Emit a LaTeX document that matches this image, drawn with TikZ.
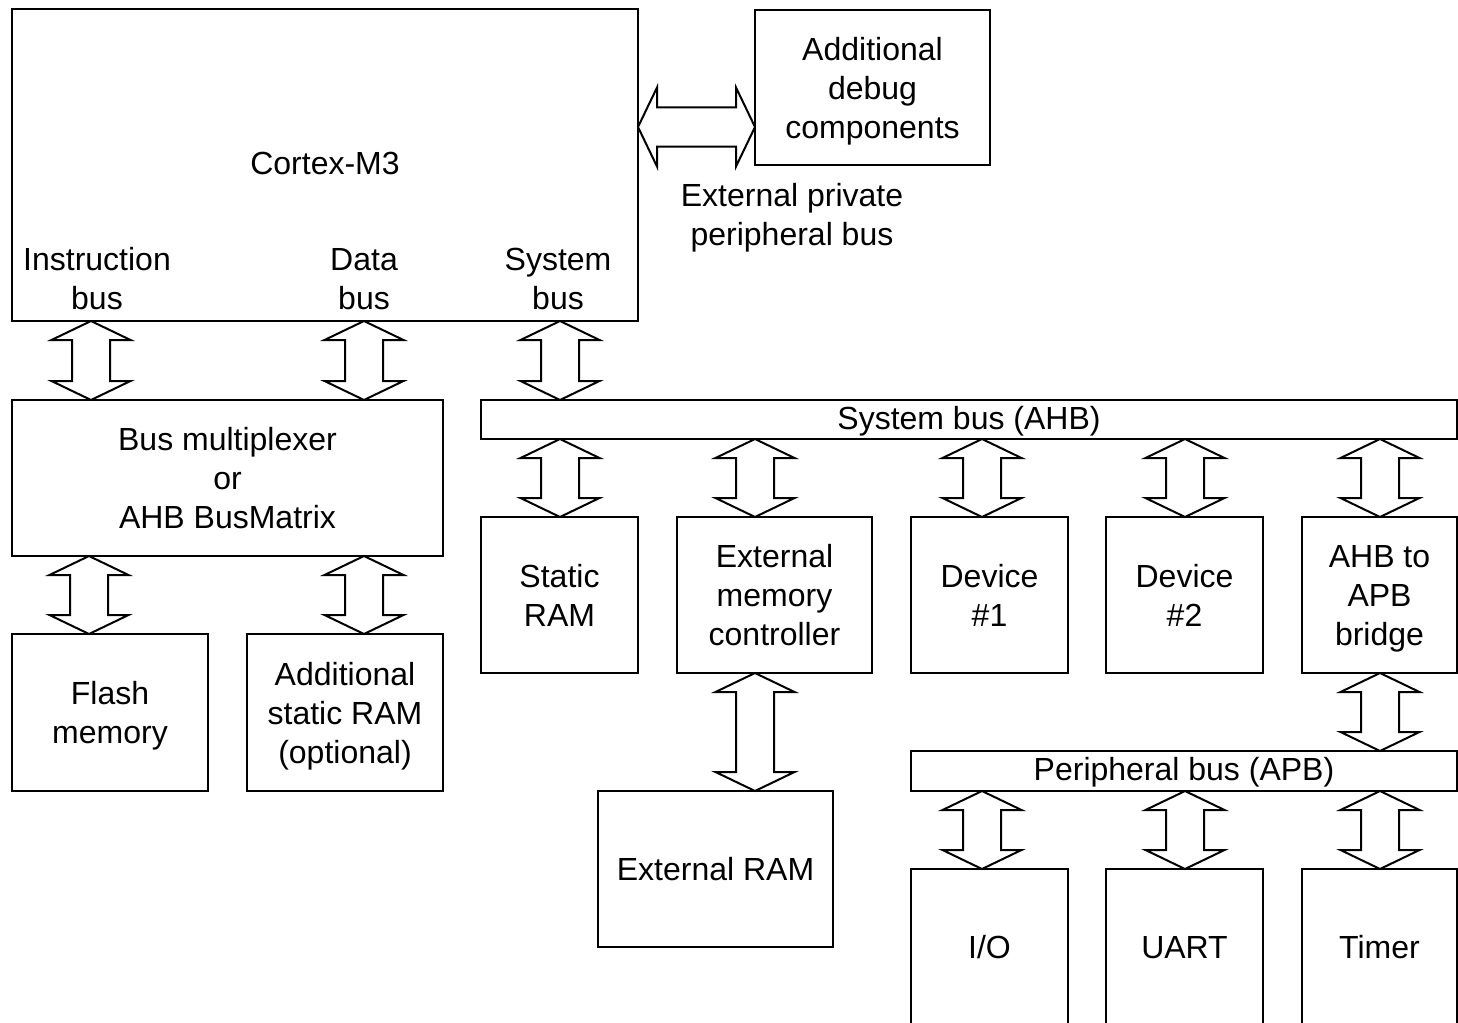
\documentclass[tikz,border=0pt]{standalone}
\usepackage{fontspec}
\setmainfont{Liberation Sans}
\usetikzlibrary{calc}
\newcommand\topstrut{\rule{0pt}{35.3pt}}
\tikzset{
  boxbase/.style={draw, line width=2.2pt, rectangle, anchor=north west, inner sep=0pt, outer sep=0pt, align=center, font=\fontsize{32}{39}\selectfont},
  box/.style={boxbase},
  bar/.style={boxbase, text height=29.3pt, text depth=9.7pt},
  lbl/.style={inner sep=0pt, align=center, font=\fontsize{32}{39}\selectfont},
  fat/.style={draw, line width=2pt, line join=miter},
}
% vertical double arrow at pixel x #1 from node #2 (south) to node #3 (north)
\newcommand\vda[3]{\draw[fat] let \p1=(#2.south), \p2=(#3.north) in
  (#1pt,\y1) -- (#1pt-39.5pt,\y1-19pt) -- (#1pt-19pt,\y1-19pt) -- (#1pt-19pt,\y2+19pt) -- (#1pt-39.5pt,\y2+19pt) -- (#1pt,\y2)
  -- (#1pt+39.5pt,\y2+19pt) -- (#1pt+19pt,\y2+19pt) -- (#1pt+19pt,\y1-19pt) -- (#1pt+39.5pt,\y1-19pt) -- cycle;}
% horizontal double arrow at pixel y #1 from node #2 (east) to node #3 (west)
\newcommand\hda[3]{\draw[fat] let \p1=(#2.east), \p2=(#3.west) in
  (\x1,-#1pt) -- (\x1+19pt,-#1pt+39.5pt) -- (\x1+19pt,-#1pt+19.5pt) -- (\x2-19pt,-#1pt+19.5pt) -- (\x2-19pt,-#1pt+39.5pt) -- (\x2,-#1pt)
  -- (\x2-19pt,-#1pt-39.5pt) -- (\x2-19pt,-#1pt-19.5pt) -- (\x1+19pt,-#1pt-19.5pt) -- (\x1+19pt,-#1pt-39.5pt) -- cycle;}
\newcommand\mkbox[6]{\node[box, minimum width=#4pt, minimum height=#5pt] (#1) at (#2,#3) {\topstrut#6\strut};}
\begin{document}
\begin{tikzpicture}[x=1pt,y=-1pt]
\useasboundingbox (0,0) rectangle (1458,1022);
\clip (0,0) rectangle (1458,1022);
\fill[white] (0,0) rectangle (1458,1022);
% boxes
\node[boxbase, minimum width=626pt, minimum height=312pt] (cortex) at (12,9) {};
\mkbox{debug}{755}{10}{235}{155}{Additional\\debug\\components}
\mkbox{mux}{12}{400}{431}{156}{Bus multiplexer\\or\\AHB BusMatrix}
\node[bar, minimum width=976pt, minimum height=39pt] (sysbus) at (481,400) {System bus (AHB)};
\mkbox{sram}{481}{517}{157}{156}{Static\\RAM}
\mkbox{emc}{677}{517}{195}{156}{External\\memory\\controller}
\mkbox{dev1}{911}{517}{157}{156}{Device\\\#1}
\mkbox{dev2}{1106}{517}{157}{156}{Device\\\#2}
\mkbox{bridge}{1302}{517}{155}{156}{AHB to\\APB\\bridge}
\mkbox{flash}{12}{634}{196}{157}{Flash\\memory}
\mkbox{asram}{247}{634}{196}{157}{Additional\\static RAM\\(optional)}
\mkbox{eram}{598}{791}{235}{156}{External RAM}
\node[bar, minimum width=546pt, minimum height=40pt] (pbus) at (911,751) {Peripheral bus (APB)};
\mkbox{io}{911}{869}{157}{156}{I/O}
\mkbox{uart}{1106}{869}{157}{156}{UART}
\mkbox{timer}{1302}{869}{155}{156}{Timer}
% labels
\node[lbl] (cm3) at (325,163) {Cortex-M3};
\node[lbl] (ibus) at (97,279) {Instruction\\bus};
\node[lbl] (dbus) at (364,279) {Data\\bus};
\node[lbl] (sbus) at (558,279) {System\\bus};
\node[lbl] (ppb) at (792,218) {External private\\peripheral bus};
% arrows
\hda{127}{cortex}{debug}
\vda{91}{cortex}{mux}
\vda{364}{cortex}{mux}
\vda{560}{cortex}{sysbus}
\vda{89}{mux}{flash}
\vda{364}{mux}{asram}
\vda{560}{sysbus}{sram}
\vda{755}{sysbus}{emc}
\vda{982}{sysbus}{dev1}
\vda{1185}{sysbus}{dev2}
\vda{1380}{sysbus}{bridge}
\vda{755}{emc}{eram}
\vda{1380}{bridge}{pbus}
\vda{982}{pbus}{io}
\vda{1185}{pbus}{uart}
\vda{1380}{pbus}{timer}
\end{tikzpicture}
\end{document}
